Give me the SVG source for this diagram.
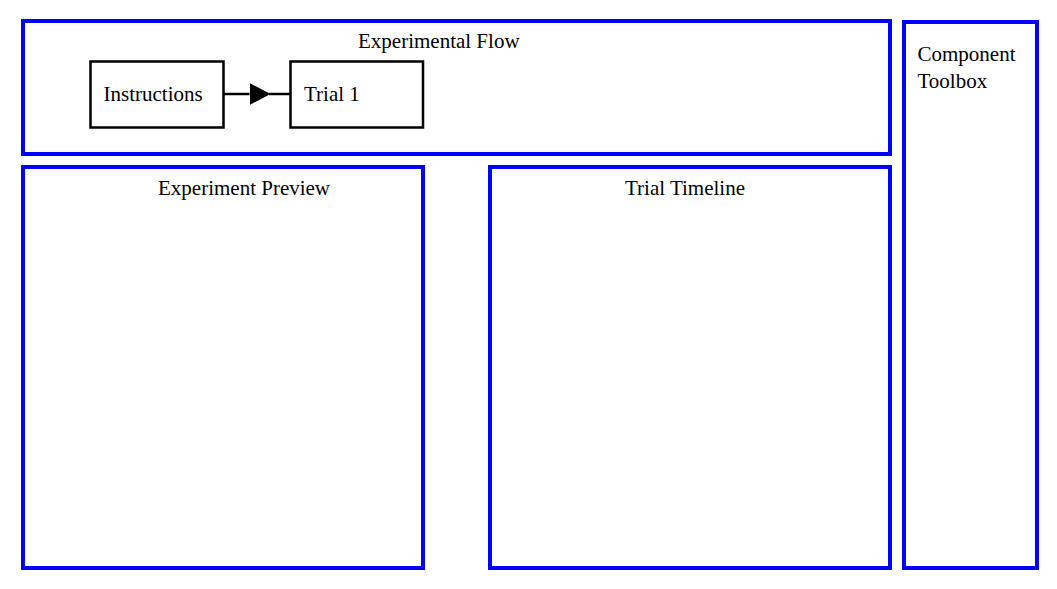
<svg xmlns="http://www.w3.org/2000/svg" width="1057" height="589" viewBox="0 0 1057 589">
<style>
.panel{fill:none;stroke:#0000ff;stroke-width:4}
.node{fill:#ffffff;stroke:#000000;stroke-width:2.5}
.lbl{font-family:"Liberation Serif","Times New Roman",serif;font-size:21px;fill:#000000}
.edge{stroke:#000000;stroke-width:2.5;fill:none}
</style>
<defs>
<marker id="arr" markerWidth="21" markerHeight="22" refX="0" refY="11" orient="auto" markerUnits="userSpaceOnUse">
<polygon points="0,0 21,11 0,22" fill="#000000"/>
</marker>
</defs>
<rect width="1057" height="589" fill="#ffffff"/>
<g id="experimental-flow">
<rect class="panel" x="23" y="21" width="867" height="133"/>
<text class="lbl" x="358" y="48">Experimental Flow</text>
</g>
<g id="experiment-preview">
<rect class="panel" x="23" y="167" width="400" height="401"/>
<text class="lbl" x="158" y="195">Experiment Preview</text>
</g>
<g id="trial-timeline">
<rect class="panel" x="490" y="167" width="400" height="401"/>
<text class="lbl" x="625" y="195">Trial Timeline</text>
</g>
<g id="component-toolbox">
<rect class="panel" x="904" y="22" width="133" height="546"/>
<text class="lbl" x="917.5" y="61">Component</text>
<text class="lbl" x="917.5" y="88">Toolbox</text>
</g>
<g id="instructions">
<rect class="node" x="90.5" y="61.5" width="133" height="66"/>
<text class="lbl" x="103.5" y="101">Instructions</text>
</g>
<g id="trial-1">
<rect class="node" x="290.5" y="61.5" width="132.5" height="66"/>
<text class="lbl" x="304" y="101">Trial 1</text>
</g>
<g id="connectors">
<line class="edge" x1="223.5" y1="94" x2="249.5" y2="94" marker-end="url(#arr)"/>
<line class="edge" x1="269" y1="94" x2="290.5" y2="94"/>
</g>
</svg>
